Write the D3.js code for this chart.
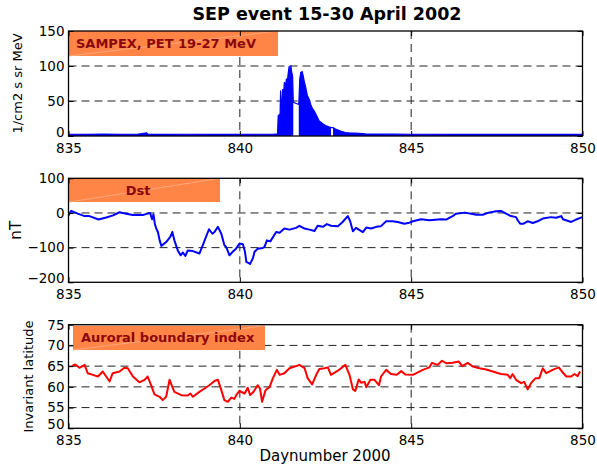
<!DOCTYPE html>
<html>
<head>
<meta charset="utf-8">
<script src="https://cdn.jsdelivr.net/npm/d3@7"></script>
<style>
  body { margin: 0; background: #fff; }
  svg { display: block; font-family: "DejaVu Sans", "Liberation Sans", Arial, sans-serif; }
</style>
</head>
<body>
<svg id="viz_area" width="597" height="465"></svg>
<script>
// ---- data ----
const xTicks = [835, 840, 845, 850];
const xGrid = [840, 845];

// SAMPEX PET 19-27 MeV flux (envelope of the spiky record)
const sepDay = [835.0, 835.5, 836.0, 836.5, 837.0, 837.28, 837.32, 837.4, 838.0, 838.5, 839.0, 839.5, 840.0, 840.5, 841.0,
  841.1, 841.12, 841.14, 841.17, 841.19, 841.2, 841.22, 841.25, 841.27, 841.3, 841.33, 841.36, 841.38, 841.41,
  841.44, 841.46, 841.49, 841.51, 841.54, 841.56, 841.72, 841.75, 841.78, 841.82, 841.85, 841.88, 841.92,
  841.97, 842.02, 842.07, 842.12, 842.17, 842.21, 842.31, 842.41, 842.5, 842.6, 842.66, 842.72, 842.79,
  842.94, 843.08, 843.18, 843.38, 843.67, 844.0, 844.5, 845.0, 845.5, 846.0, 846.5, 847.0, 847.5, 848.0,
  848.5, 849.0, 849.5, 850.0];
const sepFlux = [2.5, 2.2, 2.6, 2.4, 2.5, 4.5, 2.6, 2.4, 2.3, 2.5, 2.4, 2.3, 2.4, 2.5, 2.6,
  2.8, 29, 30, 22, 65, 40, 43, 67, 55, 77, 70, 82, 75, 89,
  100, 80, 101, 92, 86, 48, 45, 82, 91, 92, 86, 78, 70,
  58, 53, 45, 39, 36, 32, 22, 18, 15, 13, 12, 12, 10,
  7, 5, 4.5, 4, 3, 2.8, 2.6, 2.5, 2.5, 2.4, 2.4, 2.3, 2.4, 2.3,
  2.4, 2.4, 2.3, 2.3];
const sepGaps = [[841.56, 841.72], [842.66, 842.72]];

// Dst index, nT
const dstDay = [835.0, 835.08, 835.27, 835.47, 835.61, 835.88, 836.1, 836.3, 836.49, 836.68, 836.88, 837.17,
  837.31, 837.38, 837.44, 837.48, 837.52, 837.56, 837.61, 837.66, 837.71, 837.85, 837.97, 838.03, 838.09,
  838.19, 838.27, 838.34, 838.41, 838.48, 838.63, 838.82, 838.94, 839.1, 839.2, 839.26, 839.36, 839.46,
  839.55, 839.6, 839.7, 839.79, 839.89, 839.99, 840.09, 840.15, 840.19, 840.3, 840.38, 840.43, 840.52,
  840.67, 840.72, 840.79, 840.89, 841.06, 841.16, 841.3, 841.45, 841.64, 841.74, 841.89, 842.03, 842.18,
  842.27, 842.42, 842.54, 842.66, 842.86, 843.0, 843.15, 843.22, 843.3, 843.39, 843.59, 843.69, 843.83,
  843.98, 844.12, 844.27, 844.46, 844.61, 844.8, 844.95, 845.05, 845.29, 845.53, 845.87, 846.02, 846.21,
  846.31, 846.56, 846.75, 846.9, 847.09, 847.26, 847.48, 847.62, 847.77, 847.91, 848.06, 848.11, 848.18,
  848.28, 848.4, 848.55, 848.69, 848.84, 849.08, 849.23, 849.38, 849.43, 849.52, 849.67, 849.81, 850.0];
const dstVal = [-7, 6, -2, -9, -9, -19, -13, -7, 2, -2, -6, -6,
  -2, 0, -18, -4, -31, -45, -55, -79, -95, -84, -69, -55, -79,
  -108, -122, -114, -124, -108, -110, -117, -88, -47, -60, -55, -40, -60,
  -93, -98, -122, -112, -103, -88, -90, -112, -141, -147, -131, -112, -103,
  -101, -98, -79, -82, -55, -57, -45, -48, -43, -37, -45, -48, -52,
  -37, -40, -32, -37, -38, -26, -9, -24, -53, -43, -55, -42, -45,
  -40, -38, -24, -24, -26, -31, -28, -24, -18, -21, -18, -19, -9,
  -2, 1, -2, -5, -5, 1, 5, 6, -2, -9, -12, -21, -31,
  -31, -24, -29, -24, -16, -12, -14, -9, -18, -21, -26, -19, -12];

// Auroral boundary index, invariant latitude (deg)
const aurDay = [835.1, 835.2, 835.32, 835.47, 835.56, 835.71, 835.86, 836.0, 836.2, 836.29, 836.49, 836.63,
  836.73, 836.88, 837.07, 837.22, 837.31, 837.41, 837.51, 837.66, 837.75, 837.85, 837.95, 838.03, 838.09,
  838.29, 838.48, 838.56, 838.63, 838.82, 838.97, 839.11, 839.26, 839.36, 839.46, 839.55, 839.65, 839.75,
  839.84, 839.91, 839.99, 840.14, 840.23, 840.3, 840.4, 840.52, 840.59, 840.65, 840.75, 840.87, 840.96,
  841.08, 841.16, 841.3, 841.45, 841.64, 841.74, 841.89, 841.98, 842.11, 842.23, 842.32, 842.47, 842.57,
  842.66, 842.86, 843.08, 843.2, 843.3, 843.37, 843.47, 843.54, 843.64, 843.69, 843.81, 843.93, 844.06,
  844.12, 844.27, 844.41, 844.58, 844.71, 844.83, 845.05, 845.34, 845.53, 845.61, 845.77, 845.9, 846.02,
  846.21, 846.39, 846.49, 846.65, 846.8, 846.99, 847.19, 847.38, 847.62, 847.82, 847.89, 847.96, 848.06,
  848.21, 848.3, 848.4, 848.5, 848.63, 848.74, 848.84, 848.94, 849.13, 849.31, 849.43, 849.53, 849.67,
  849.77, 849.86, 849.93];
const aurVal = [65.0, 65.4, 64.6, 65.3, 63.3, 62.9, 62.5, 63.7, 61.3, 63.3, 63.7, 64.6,
  64.5, 62.5, 61.1, 61.7, 62.5, 60.4, 58.2, 57.6, 56.8, 57.6, 61.7, 60.0, 58.8,
  58.0, 57.9, 58.4, 57.6, 58.8, 59.6, 60.4, 61.4, 61.7, 59.2, 56.8, 56.4, 57.4,
  57.1, 58.2, 59.0, 58.4, 59.8, 58.0, 58.8, 60.4, 59.6, 56.4, 59.2, 60.0, 62.0,
  64.1, 62.9, 63.3, 64.5, 65.0, 65.3, 64.5, 62.1, 60.6, 62.9, 64.3, 64.5, 64.7,
  62.9, 63.9, 65.3, 62.9, 59.4, 59.0, 61.8, 61.0, 61.2, 59.9, 61.7, 61.7, 60.4,
  62.5, 64.1, 63.1, 62.9, 63.8, 63.0, 62.9, 64.1, 64.7, 65.8, 65.3, 66.3, 65.7,
  65.8, 66.1, 65.0, 65.8, 64.9, 64.5, 64.2, 63.7, 63.1, 62.9, 62.1, 63.1, 61.7,
  60.9, 61.2, 59.4, 60.9, 62.1, 62.1, 64.5, 63.3, 64.1, 64.7, 63.4, 62.5, 62.5,
  63.1, 62.6, 63.7];

const sepTicks = [0, 50, 100, 150];
const dstTicks = [-200, -100, 0, 100];
const aurTicks = [50, 55, 60, 65, 70, 75];

// ---- layout ----
const svg = d3.select("#viz_area");
const x = d3.scaleLinear().domain([835, 850]).range([68.5, 582.5]);

svg.append("text")
    .attr("x", 327).attr("y", 20)
    .attr("text-anchor", "middle")
    .style("font-size", "17.5px").style("font-weight", "bold")
    .text("SEP event 15-30 April 2002");

const panels = [
  {top: 31, bottom: 136, domain: [0, 150], ticks: sepTicks, grid: [50, 100],
   ylabel: "1/cm2 s sr MeV", labelX: 17, labelSize: 13,
   box: {x0: 69, x1: 278, y0: 31, y1: 56, text: "SAMPEX, PET 19-27 MeV", tx: 76, anchor: "start"}},
  {top: 178.3, bottom: 282.3, domain: [-200, 100], ticks: dstTicks, grid: [-100, 0],
   ylabel: "nT", labelX: 16, labelSize: 15,
   box: {x0: 69, x1: 220, y0: 178.3, y1: 202, text: "Dst", tx: 138, anchor: "middle"}},
  {top: 324.7, bottom: 428.3, domain: [50, 75], ticks: aurTicks, grid: [55, 60, 65, 70],
   ylabel: "Invariant latitude", labelX: 28, labelSize: 13,
   box: {x0: 73, x1: 265, y0: 325.7, y1: 350, text: "Auroral boundary index", tx: 81, anchor: "start"}}
];

panels.forEach(p => {
  const y = d3.scaleLinear().domain(p.domain).range([p.bottom, p.top]);
  p.y = y;
  const g = svg.append("g");

  // grid
  g.selectAll(".hg").data(p.grid).enter().append("line")
      .attr("x1", x.range()[0]).attr("x2", x.range()[1])
      .attr("y1", d => y(d)).attr("y2", d => y(d))
      .attr("stroke", "#222").attr("stroke-dasharray", "8,5");
  g.selectAll(".vg").data(xGrid).enter().append("line")
      .attr("x1", d => x(d)).attr("x2", d => x(d))
      .attr("y1", p.top).attr("y2", p.bottom)
      .attr("stroke", "#222").attr("stroke-dasharray", "8,5");

  p.g = g;
});

// SEP flux: filled envelope, split at data gaps
{
  const p = panels[0];
  const pts = sepDay.map((d, i) => [d, sepFlux[i]]);
  const segs = [[pts[0]]];
  for (let i = 1; i < pts.length; i++) {
    const a = pts[i - 1][0], b = pts[i][0];
    const inGap = sepGaps.some(gp => a >= gp[0] && b <= gp[1]);
    if (inGap) segs.push([]);
    segs[segs.length - 1].push(pts[i]);
  }
  const area = d3.area().x(d => x(d[0])).y0(p.y(0)).y1(d => p.y(d[1]));
  p.g.selectAll(".sep").data(segs).enter().append("path")
      .attr("d", area).attr("fill", "#0000ff");
  p.g.append("path")
      .attr("d", d3.line().x(d => x(d[0])).y(d => p.y(d[1]))(pts))
      .attr("fill", "none").attr("stroke", "#0000ff").attr("stroke-width", 1.2);
}

// Dst
{
  const p = panels[1];
  const pts = dstDay.map((d, i) => [d, dstVal[i]]);
  p.g.append("path")
      .attr("d", d3.line().x(d => x(d[0])).y(d => p.y(d[1]))(pts))
      .attr("fill", "none").attr("stroke", "#0000ff").attr("stroke-width", 2)
      .attr("stroke-linejoin", "round");
}

// Auroral boundary
{
  const p = panels[2];
  const pts = aurDay.map((d, i) => [d, aurVal[i]]);
  p.g.append("path")
      .attr("d", d3.line().x(d => x(d[0])).y(d => p.y(d[1]))(pts))
      .attr("fill", "none").attr("stroke", "#ff0000").attr("stroke-width", 2)
      .attr("stroke-linejoin", "round");
}

// frames, axes, legend boxes
panels.forEach(p => {
  const g = p.g;
  const b = p.box;
  g.append("rect")
      .attr("x", b.x0).attr("y", b.y0)
      .attr("width", b.x1 - b.x0).attr("height", b.y1 - b.y0)
      .attr("fill", "#ff8547");
  g.append("line")
      .attr("x1", b.x0).attr("y1", b.y1).attr("x2", b.x1).attr("y2", b.y0)
      .attr("stroke", "#ffb08a").attr("stroke-width", 0.8);
  g.append("text")
      .attr("x", b.tx).attr("y", (b.y0 + b.y1) / 2 + 4.5)
      .attr("text-anchor", b.anchor)
      .attr("fill", "#8c0808")
      .style("font-size", "13px").style("font-weight", "bold")
      .text(b.text);

  g.append("rect")
      .attr("x", x.range()[0]).attr("y", p.top)
      .attr("width", x.range()[1] - x.range()[0]).attr("height", p.bottom - p.top)
      .attr("fill", "none").attr("stroke", "#000").attr("stroke-width", 1.3);

  const yAxis = g.append("g")
      .attr("transform", `translate(${x.range()[0]},0)`)
      .call(d3.axisLeft(p.y).tickValues(p.ticks).tickSize(-5).tickPadding(4).tickFormat(d3.format("d")));
  const yAxisR = g.append("g")
      .attr("transform", `translate(${x.range()[1]},0)`)
      .call(d3.axisRight(p.y).tickValues(p.ticks).tickSize(-5).tickFormat(""));
  const xAxis = g.append("g")
      .attr("transform", `translate(0,${p.bottom})`)
      .call(d3.axisBottom(x).tickValues(xTicks).tickSize(-5).tickPadding(4).tickFormat(d3.format("d")));
  const xAxisT = g.append("g")
      .attr("transform", `translate(0,${p.top})`)
      .call(d3.axisTop(x).tickValues(xTicks).tickSize(-5).tickFormat(""));
  [yAxis, yAxisR, xAxis, xAxisT].forEach(a => {
    a.select(".domain").remove();
    a.selectAll("text").style("font-size", "13.5px")
        .style("font-family", "'DejaVu Sans', 'Liberation Sans', Arial, sans-serif").attr("fill", "#000");
  });
  // keep the lowest y label clear of the first x label
  yAxis.selectAll("text").filter(d => d === p.ticks[0]).attr("dy", "0.05em");
  xAxis.selectAll("text").attr("dy", "0.95em");

  svg.append("text")
      .attr("transform", `translate(${p.labelX},${(p.top + p.bottom) / 2}) rotate(-90)`)
      .attr("text-anchor", "middle")
      .attr("dy", "0.35em")
      .style("font-size", p.labelSize + "px")
      .text(p.ylabel);
});

svg.append("text")
    .attr("x", 325).attr("y", 461)
    .attr("text-anchor", "middle")
    .style("font-size", "15px")
    .text("Daynumber 2000");
</script>
</body>
</html>
